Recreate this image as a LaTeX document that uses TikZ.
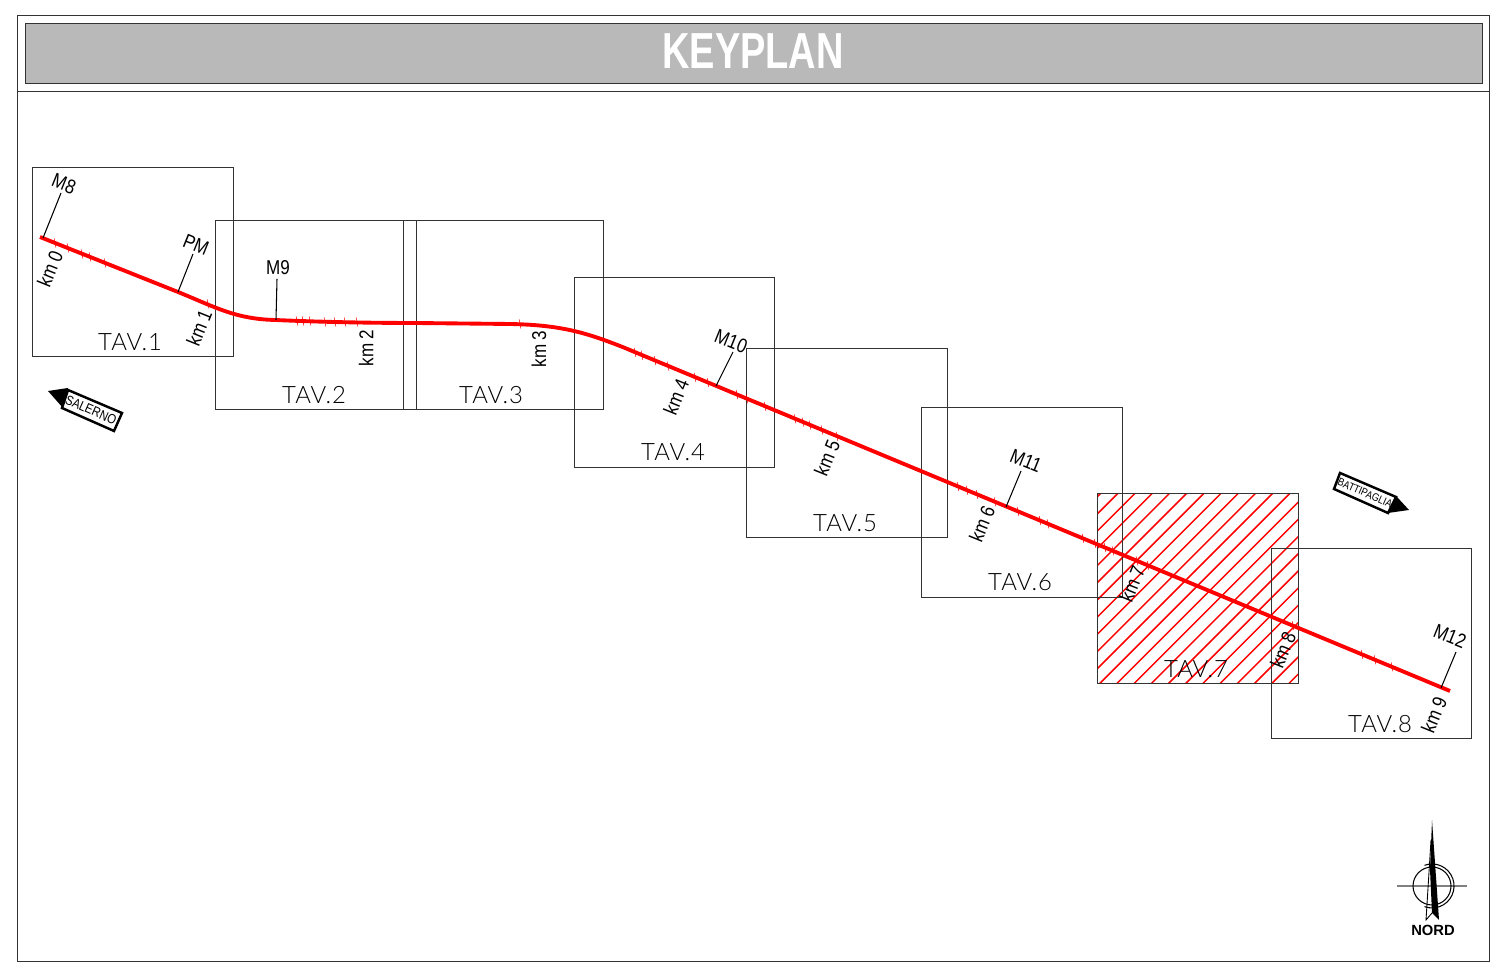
\documentclass[tikz,border=0pt]{standalone}
\usepackage{fontspec}
\usepackage{xcolor}
\usetikzlibrary{calc}
\setmainfont{Liberation Sans}
\newfontfamily\tavfont[LetterSpace=4]{Lato Light}
\newfontfamily\titlefont[FakeStretch=0.75]{Liberation Sans}
\newfontfamily\labelfont[FakeStretch=0.85]{Liberation Sans}
\definecolor{road}{HTML}{FF0000}
\definecolor{band}{HTML}{B9B9B9}
\definecolor{frameline}{HTML}{333333}
\tikzset{
  frameline/.style={line width=0.24pt, draw=frameline},
  sheet/.style={line width=0.26pt, draw=frameline},
  hatch/.style={line width=0.42pt, draw=road},
  roadline/.style={line width=1.1pt, draw=road},
  roadtick/.style={line width=0.15pt, draw=road},
  leader/.style={line width=0.3pt, draw=black},
  tav/.style={font=\tavfont\fontsize{6.8}{8}\selectfont, text=black, inner sep=0pt},
  mast/.style={font=\labelfont\fontsize{5.7}{6}\selectfont, inner sep=0pt},
  km/.style={font=\labelfont\fontsize{5.7}{6}\selectfont, inner sep=0pt},
  sign/.style={font=\labelfont\fontsize{3.8}{4}\selectfont, inner sep=0pt},
  signbox/.style={line width=0.7pt, draw=black, fill=white},
}
\begin{document}
\begin{tikzpicture}[x=0.01cm,y=-0.01cm]
  \useasboundingbox (0,0) rectangle (1494,965);

  % title block
  \draw[frameline] (17,15) rectangle (1489,961);
  \draw[frameline] (17,91) -- (1489,91);
  \draw[frameline, fill=band] (25,23) rectangle (1482,83);
  \node[text=white, inner sep=0pt, font=\titlefont\bfseries\fontsize{14.4}{16}\selectfont] (title) at (753,51) {KEYPLAN};

  % hatched sheet
  \begin{scope}
    \clip (1097,493.6) rectangle (1298,683.6);
    \foreach \s in {0,...,23}
      \draw[hatch] ({1101+17.2*\s},493) -- ({801+17.2*\s},793);
  \end{scope}

  % sheets
  \begin{scope}[shift={(0,0.6)}]
    \draw[sheet] (32,167) rectangle (233,356);
    \draw[sheet] (215,220) rectangle (416,409);
    \draw[sheet] (403,220) rectangle (603,409);
    \draw[sheet] (574,277) rectangle (774,467);
    \draw[sheet] (746,348) rectangle (947,537);
    \draw[sheet] (921,407) rectangle (1122,597);
    \draw[sheet] (1097,493) rectangle (1298,683);
    \draw[sheet] (1271,548) rectangle (1471,738);
  \end{scope}

  \node[tav] (tav1) at (130,342) {TAV.1};
  \node[tav] (tav2) at (314,395) {TAV.2};
  \node[tav] (tav3) at (491,395) {TAV.3};
  \node[tav] (tav4) at (673,452) {TAV.4};
  \node[tav] (tav5) at (845,523) {TAV.5};
  \node[tav] (tav6) at (1020,582) {TAV.6};
  \node[tav] (tav7) at (1196,669) {TAV.7};
  \node[tav] (tav8) at (1380,724) {TAV.8};

  % road
  \draw[roadline] (40,237) -- (178,292) .. controls (215,307) and (235,319) .. (275,320)
    .. controls (320,322) and (370,323) .. (415,323) -- (510,324)
    .. controls (560,325) and (585,332) .. (625,348) -- (1450,691);
  \foreach \tx/\ty in {55/243,68/248,82/254,90/257,105/263,208/304,
      297/321,303/321,310/321,325/322,335/322,345/322,357/322,520/324}
    \draw[roadtick] (\tx-0.8,\ty-4.5) -- (\tx+0.8,\ty+4.5);
  \foreach \tx in {635,642,655,668,695,708,737,747,765,795,803,810,822,837,
      958,967,977,995,1018,1040,1048,1083,1095,1105,1113,1137,1148,1293,1362,1375,1392}
    \draw[roadtick] (\tx-0.8,{386+(\tx-716)*0.4155-4.5}) -- (\tx+0.8,{386+(\tx-716)*0.4155+4.5});

  % mast leaders
  \coordinate (m8a) at (43,238);
  \coordinate (m8b) at (61,193);
  \coordinate (pma) at (178,292);
  \coordinate (pmb) at (193,254);
  \coordinate (m9a) at (276,320);
  \coordinate (m9b) at (277,279);
  \coordinate (m10a) at (716,386);
  \coordinate (m10b) at (733,352);
  \coordinate (m11a) at (1006,507);
  \coordinate (m11b) at (1021,471);
  \coordinate (m12a) at (1441,688);
  \coordinate (m12b) at (1456,652);
  \draw[leader] (m8a) -- (m8b);
  \draw[leader] (pma) -- (pmb);
  \draw[leader] (m9a) -- (m9b);
  \draw[leader] (m10a) -- (m10b);
  \draw[leader] (m11a) -- (m11b);
  \draw[leader] (m12a) -- (m12b);

  \node[mast, rotate=-22] (m8) at (64,184) {M8};
  \node[mast, rotate=-22] (pm) at (196,245) {PM};
  \node[mast] (m9) at (278,268) {M9};
  \node[mast, rotate=-22] (m10) at (731,341) {M10};
  \node[mast, rotate=-22] (m11) at (1026,461) {M11};
  \node[mast, rotate=-22] (m12) at (1450,636) {M12};

  \node[km, rotate=68] (km0) at (50,269) {km 0};
  \node[km, rotate=68] (km1) at (199,328) {km 1};
  \node[km, rotate=90] (km2) at (366,348) {km 2};
  \node[km, rotate=90] (km3) at (539,349) {km 3};
  \node[km, rotate=68] (km4) at (676,397) {km 4};
  \node[km, rotate=68] (km5) at (827,458) {km 5};
  \node[km, rotate=68] (km6) at (982,524) {km 6};
  \node[km, rotate=68] (km7) at (1132,584) {km 7};
  \node[km, rotate=68] (km8) at (1283,650) {km 8};
  \node[km, rotate=68] (km9) at (1434,715) {km 9};

  % direction signs
  \fill (48,391) -- (68,388) -- (63,408) -- cycle;
  \draw[signbox] (68,390) -- (122,413) -- (114,431) -- (62,408) -- cycle;
  \node[sign, rotate=-24] (salerno) at (91,410) {SALERNO};
  \fill (1397,497) -- (1409,510) -- (1388,513) -- cycle;
  \draw[signbox] (1340,473) -- (1396,497) -- (1388,513) -- (1334,489) -- cycle;
  \node[sign, rotate=-24, font=\labelfont\fontsize{3.1}{4}\selectfont] (battipaglia) at (1365,493) {BATTIPAGLIA};

  % north arrow
  \draw[line width=0.4pt, draw=black!50] (1397,886) -- (1467,886);
  \draw[line width=0.3pt] (1432,886) circle (19);
  \draw[line width=0.3pt] (1424.5,865.3) arc (-110:110:22);
  \fill (1432,820) -- (1439,920) -- (1432,913) -- (1430,870) -- cycle;
  \draw[line width=0.25pt] (1431,840) -- (1426,920) -- (1432,913);
  \node[inner sep=0pt, font=\bfseries\fontsize{4.2}{5}\selectfont] (nord) at (1433,930) {NORD};
\end{tikzpicture}
\end{document}
